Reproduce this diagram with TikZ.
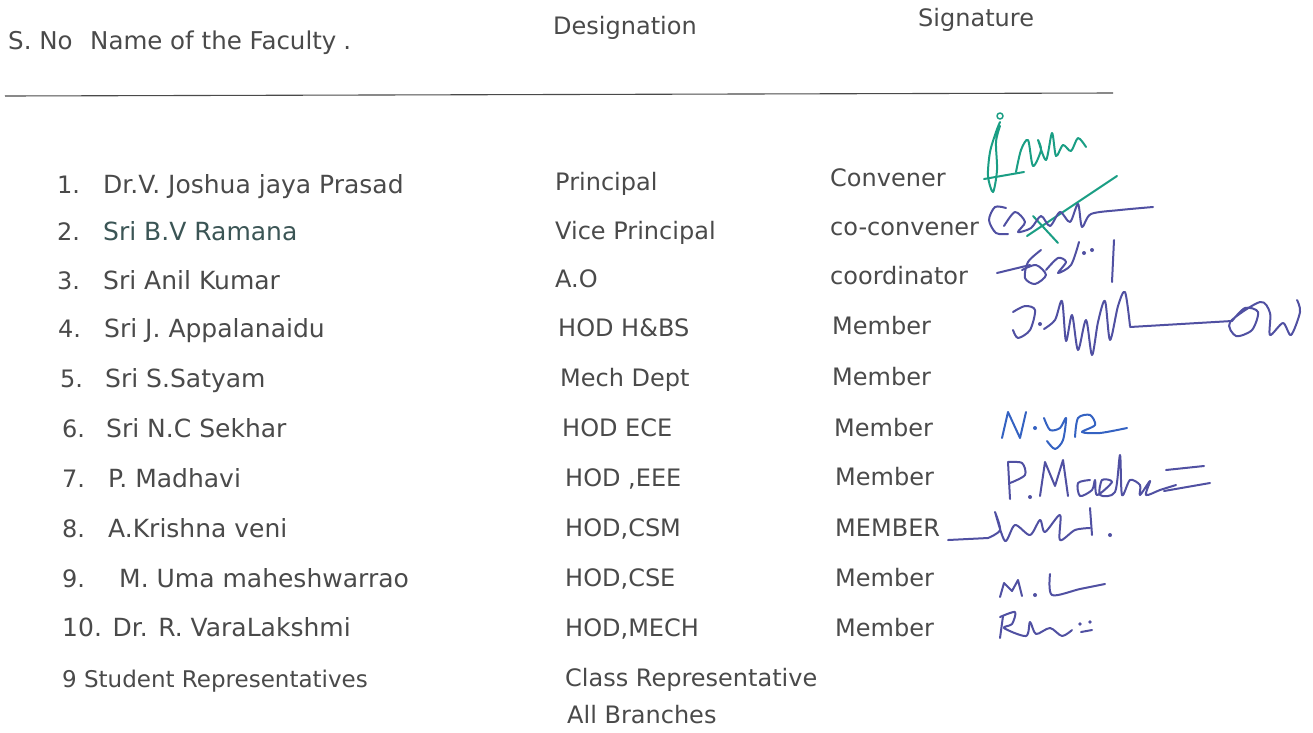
\documentclass[tikz,border=0pt]{standalone}
\usepackage{fontspec}
\setmainfont{DejaVu Sans}
\usepackage{tikz}
\usetikzlibrary{positioning}
\definecolor{ink}{HTML}{4A4A4A}
\definecolor{tealink}{HTML}{1A9E84}
\definecolor{penblue}{HTML}{5050A2}
\definecolor{brightpen}{HTML}{3462C2}
\tikzset{
  entry/.style={anchor=base west, inner sep=0pt, text=ink, font=\fontsize{24}{28}\selectfont},
  person/.style={entry, font=\fontsize{25}{30}\selectfont},
  heading/.style={entry, font=\fontsize{24.5}{30}\selectfont},
  sig/.style={line width=2pt, line cap=round, line join=round}
}

\begin{document}
\begin{tikzpicture}[x=1pt, y=-1pt]
        \useasboundingbox[fill=white] (0,0) rectangle (1313,732);
        % header
        \node[heading] (sno) at (8,49) {S. No};
        \node[heading] (faculty) at (90,49) {Name of the Faculty\kern7pt.};
        \node[entry] (desig) at (553,34) {Designation};
        \node[entry] (signature) at (918,26) {Signature};
        \coordinate (rule_l) at (5,96);
        \coordinate (rule_r) at (1113,93);
        \draw[ink, line width=1.1pt] (rule_l) -- (rule_r);

        % names
        \node[entry] (n1) at (57,193) {1.};   \node[person] (name1) at (103,193) {Dr.V. Joshua jaya Prasad};
        \node[entry] (n2) at (57,240) {2.};   \node[person, text=ink!80!teal] (name2) at (103,240) {Sri B.V Ramana};
        \node[entry] (n3) at (57,289) {3.};   \node[person] (name3) at (103,289) {Sri Anil Kumar};
        \node[entry] (n4) at (58,337) {4.};   \node[person] (name4) at (104,337) {Sri J. Appalanaidu};
        \node[entry] (n5) at (60,387) {5.};   \node[person] (name5) at (105,387) {Sri S.Satyam};
        \node[entry] (n6) at (62,437) {6.};   \node[person] (name6) at (106,437) {Sri N.C Sekhar};
        \node[entry] (n7) at (62,487) {7.};   \node[person] (name7) at (108,487) {P. Madhavi};
        \node[entry] (n8) at (62,537) {8.};   \node[person] (name8) at (108,537) {A.Krishna veni};
        \node[entry] (n9) at (62,587) {9.};   \node[person] (name9) at (119,587) {M. Uma maheshwarrao};
        \node[person] (n10) at (62,636) {10. Dr. R. VaraLakshmi};
        \node[entry, font=\fontsize{23}{28}\selectfont] (students) at (62,687) {9 Student Representatives};

        % designations
        \node[entry] (d1) at (555,190) {Principal};
        \node[entry] (d2) at (555,239) {Vice Principal};
        \node[entry] (d3) at (555,287) {A.O};
        \node[entry] (d4) at (558,336) {HOD H\&BS};
        \node[entry] (d5) at (560,386) {Mech Dept};
        \node[entry] (d6) at (562,436) {HOD ECE};
        \node[entry] (d7) at (565,486) {HOD ,EEE};
        \node[entry] (d8) at (565,536) {HOD,CSM};
        \node[entry] (d9) at (565,586) {HOD,CSE};
        \node[entry] (d10) at (565,636) {HOD,MECH};
        \node[entry] (d11) at (565,686) {Class Representative};
        \node[entry] (d11b) at (567,723) {All Branches};

        % roles
        \node[entry] (r1) at (830,186) {Convener};
        \node[entry] (r2) at (830,235) {co-convener};
        \node[entry] (r3) at (830,284) {coordinator};
        \node[entry] (r4) at (832,334) {Member};
        \node[entry] (r5) at (832,385) {Member};
        \node[entry] (r6) at (834,436) {Member};
        \node[entry] (r7) at (835,485) {Member};
        \node[entry] (r8) at (835,536) {MEMBER};
        \node[entry] (r9) at (835,586) {Member};
        \node[entry] (r10) at (835,636) {Member};

        % signatures
        \draw[sig, tealink] plot[smooth] coordinates {(1000,122) (996,132) (990,152) (988,176) (993,192) (997,170) (996,142) (1000,126)};
        \draw[sig, tealink, line width=1.5pt] (1000,116) circle (3);
        \draw[sig, tealink] (984,179) -- (1024,172);
        \draw[sig, tealink] plot[smooth] coordinates {(1016,172) (1021,150) (1028,140) (1033,166) (1041,150) (1038,140) (1046,160) (1052,133) (1056,156) (1063,145) (1071,151) (1078,138) (1086,147)};
        \draw[sig, tealink] (1027,236) -- (1117,176);
        \draw[sig, tealink] (1033,216) -- (1058,243);

        \draw[sig, penblue] plot[smooth] coordinates {(1006,208) (995,207) (989,220) (996,233) (1008,234)};
        \draw[sig, penblue] plot[smooth] coordinates {(1004,226) (1015,212) (1025,222) (1018,232) (1031,228) (1041,216) (1050,226) (1060,212) (1070,222) (1078,204) (1082,227) (1091,214) (1120,210) (1153,207)};

        \draw[sig, penblue] (997,273) -- (1030,265);
        \draw[sig, penblue] plot[smooth] coordinates {(1041,250) (1028,262) (1025,278) (1035,284) (1046,275) (1036,265) (1022,270)};
        \draw[sig, penblue] plot[smooth] coordinates {(1046,270) (1058,258) (1066,262) (1058,273) (1071,265) (1079,242)};
        \fill[penblue] (1084,253) circle (2) (1092,250) circle (2);
        \draw[sig, penblue] (1114,240) -- (1112,282);

        \draw[sig, penblue] plot[smooth] coordinates {(1013,312) (1025,306) (1035,310) (1030,330) (1018,338) (1013,330)};
        \fill[penblue] (1040,324) circle (2);
        \draw[sig, penblue] plot[smooth] coordinates {(1044,329) (1055,320) (1062,301) (1066,341) (1072,315) (1078,350) (1086,320) (1092,355) (1098,322) (1105,301) (1110,340) (1118,306) (1125,292) (1130,326)};
        \draw[sig, penblue] (1130,327) -- (1232,321);
        \draw[sig, penblue] plot[smooth] coordinates {(1232,321) (1245,308) (1258,312) (1252,330) (1236,336) (1230,322) (1260,302) (1270,313) (1270,335) (1283,323) (1291,335) (1300,312) (1297,300)};

        \draw[sig, brightpen] (1002,438) -- (1008,412) -- (1020,438) -- (1026,412);
        \fill[brightpen] (1035,428) circle (2);
        \draw[sig, brightpen] plot[smooth] coordinates {(1044,418) (1050,430) (1060,428) (1066,418) (1063,440) (1055,449) (1047,441)};
        \draw[sig, brightpen] plot[smooth] coordinates {(1075,437) (1078,418) (1090,415) (1095,425) (1082,432) (1100,433) (1127,428)};

        \draw[sig, penblue] (1010,499) -- (1008,462);
        \draw[sig, penblue] plot[smooth] coordinates {(1008,462) (1022,463) (1025,475) (1010,483)};
        \fill[penblue] (1030,497) circle (2);
        \draw[sig, penblue] (1040,496) -- (1045,462) -- (1055,486) -- (1063,460) -- (1068,496);
        \draw[sig, penblue] plot[smooth] coordinates {(1090,480) (1078,483) (1080,496) (1092,490) (1095,480) (1097,495) (1112,482) (1102,480) (1100,495) (1115,492) (1120,455) (1122,495) (1130,480) (1140,485) (1140,495) (1150,481) (1146,495) (1160,490) (1176,485)};
        \draw[sig, penblue] (1166,470) -- (1204,466);
        \draw[sig, penblue] (1164,491) -- (1210,483);

        \draw[sig, penblue] (948,540) -- (988,538);
        \draw[sig, penblue] plot[smooth] coordinates {(988,538) (1000,530) (995,512) (1005,541) (1015,525) (1030,535) (1040,520) (1045,532) (1060,515) (1060,540) (1075,530) (1090,528)};
        \draw[sig, penblue] (1090,508) -- (1092,535);
        \fill[penblue] (1110,535) circle (2);

        \draw[sig, penblue] (1000,597) -- (1004,583) -- (1012,591) -- (1018,580) -- (1022,596);
        \fill[penblue] (1035,595) circle (2);
        \draw[sig, penblue] plot[smooth] coordinates {(1050,574) (1052,595) (1080,589) (1105,584)};

        \draw[sig, penblue] (1003,616) -- (1000,638);
        \draw[sig, penblue] plot[smooth] coordinates {(1000,617) (1015,612) (1012,624) (1004,628) (1026,636) (1030,622) (1036,634) (1050,628) (1062,636) (1072,630)};
        \fill[penblue] (1080,624) circle (1.8) (1090,622) circle (1.8);
        \draw[sig, penblue] (1081,632) -- (1092,630);
\end{tikzpicture}
\end{document}
